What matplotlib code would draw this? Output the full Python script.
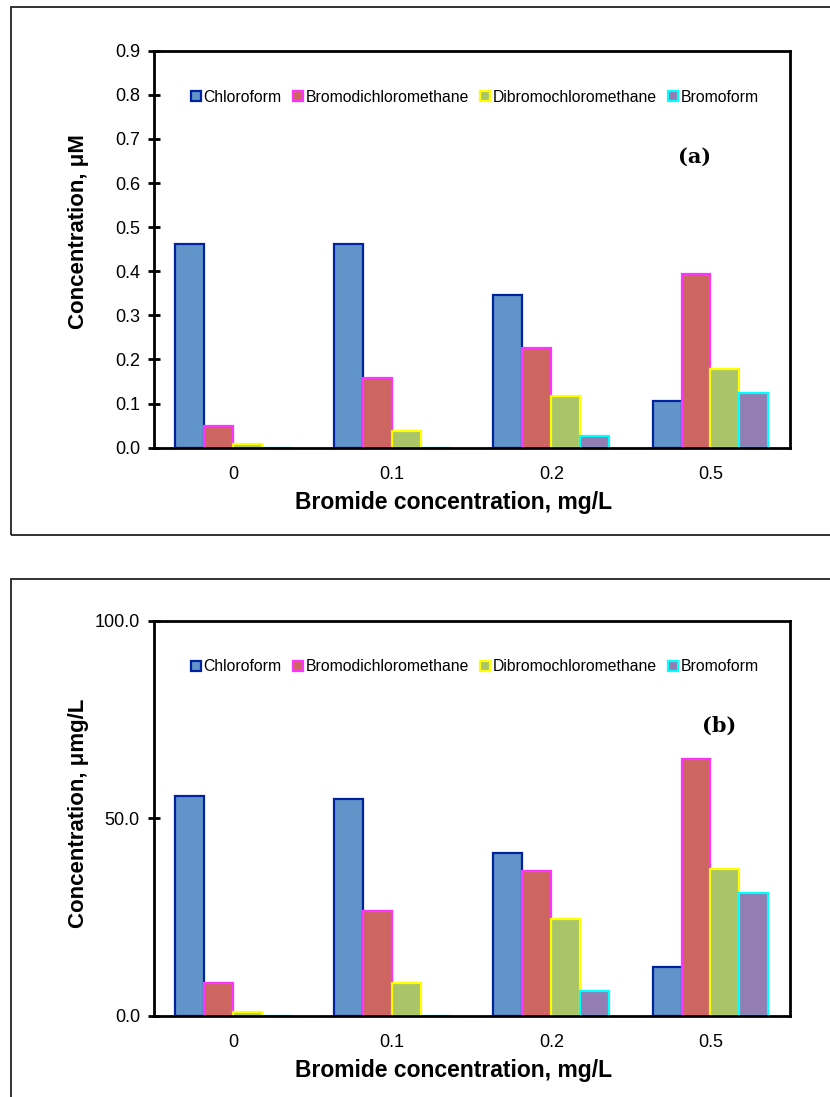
"""Bar charts of THM concentrations vs bromide dose, panels (a) and (b)"""
import numpy as np
import matplotlib.pyplot as plt
from matplotlib.patches import Rectangle
from matplotlib.ticker import FormatStrFormatter

plt.rcParams['font.family'] = ['Liberation Sans', 'DejaVu Sans']

bromide_levels = ["0", "0.1", "0.2", "0.5"]
compounds = ["Chloroform", "Bromodichloromethane", "Dibromochloromethane", "Bromoform"]

# panel (a): molar concentration, uM
chloroform_um = [0.461, 0.461, 0.346, 0.105]
bdcm_um = [0.050, 0.159, 0.227, 0.394]
dbcm_um = [0.008, 0.038, 0.117, 0.178]
bromoform_um = [0.0, 0.0, 0.027, 0.123]

# panel (b): mass concentration
chloroform_mass = [55.6, 54.8, 41.3, 12.3]
bdcm_mass = [8.4, 26.6, 36.6, 64.9]
dbcm_mass = [0.9, 8.4, 24.5, 37.2]
bromoform_mass = [0.0, 0.0, 6.2, 31.2]

yticks_a = [0.0, 0.1, 0.2, 0.3, 0.4, 0.5, 0.6, 0.7, 0.8, 0.9]
yticks_b = [0.0, 50.0, 100.0]

fill_colors = ["#6195C9", "#CD6660", "#AAC46A", "#937DB2"]
edge_colors = ["#0022A0", "#FF33FF", "#FFFF00", "#00FFFF"]

W, H = 830, 1097


def px_axes(fig, left, top, right, bottom):
    # pixel box (from top-left) -> figure axes
    return fig.add_axes([left / W, 1 - bottom / H, (right - left) / W, (bottom - top) / H])


def draw_panel(ax, series, yticks, ylabel, ylabel_y, tag, tag_xy):
    x = np.arange(len(bromide_levels)) + 0.5
    w = 1 / 5.5  # excel style gap width 150%
    for j, vals in enumerate(series):
        ax.bar(x + (j - 1.5) * w, vals, width=w, color=fill_colors[j],
               edgecolor=edge_colors[j], linewidth=1.6, label=compounds[j], zorder=2)

    ax.set_xlim(0, len(bromide_levels))
    ax.set_ylim(yticks[0], yticks[-1])
    ax.set_xticks(x)
    ax.set_xticklabels(bromide_levels)
    ax.set_yticks(yticks)
    ax.yaxis.set_major_formatter(FormatStrFormatter('%.1f'))
    ax.tick_params(axis='x', length=0, pad=13, labelsize=13)
    ax.tick_params(axis='y', direction='inout', length=8.6, width=2, pad=5.5, labelsize=13)
    for s in ax.spines.values():
        s.set_linewidth(2.0)
        s.set_zorder(3)

    ax.set_xlabel("Bromide concentration, mg/L", fontsize=16.5, fontweight='bold', va='center')
    ax.xaxis.set_label_coords(0.472, -0.139)
    ax.set_ylabel(ylabel, fontsize=16, fontweight='bold', va='center')
    ax.yaxis.set_label_coords(-0.1186, ylabel_y)

    ax.legend(loc='center', bbox_to_anchor=(0.505, 0.883), ncol=4, frameon=False,
              fontsize=11.3, handlelength=0.62, handleheight=0.62, handletextpad=0.15,
              columnspacing=0.75, borderpad=0, borderaxespad=0)
    ax.text(tag_xy[0], tag_xy[1], tag, transform=ax.transAxes, ha='center', va='center',
            fontsize=15, fontweight='bold', family='DejaVu Serif')


fig = plt.figure(figsize=(W / 100, H / 100), dpi=100)

# outer frames round each panel (right side runs off the page)
fig.add_artist(Rectangle((11 / W, 1 - 535 / H), 1.0, 528 / H, transform=fig.transFigure,
                         fill=False, lw=1.3, ec='#222222'))
fig.add_artist(Rectangle((11 / W, -0.02), 1.0, 1 - 579 / H + 0.02, transform=fig.transFigure,
                         fill=False, lw=1.3, ec='#222222'))

ax_a = px_axes(fig, 153.5, 50.7, 790, 447.7)
draw_panel(ax_a, [chloroform_um, bdcm_um, dbcm_um, bromoform_um], yticks_a,
           "Concentration, μM", 0.544, "(a)", ((695 - 153.5) / 636.5, (447.7 - 157) / 397))

ax_b = px_axes(fig, 153.5, 620.6, 790, 1016)
draw_panel(ax_b, [chloroform_mass, bdcm_mass, dbcm_mass, bromoform_mass], yticks_b,
           "Concentration, μmg/L", 0.513, "(b)", ((719 - 153.5) / 636.5, (1016 - 726) / 395.4))

fig.savefig("out.png", dpi=100)
